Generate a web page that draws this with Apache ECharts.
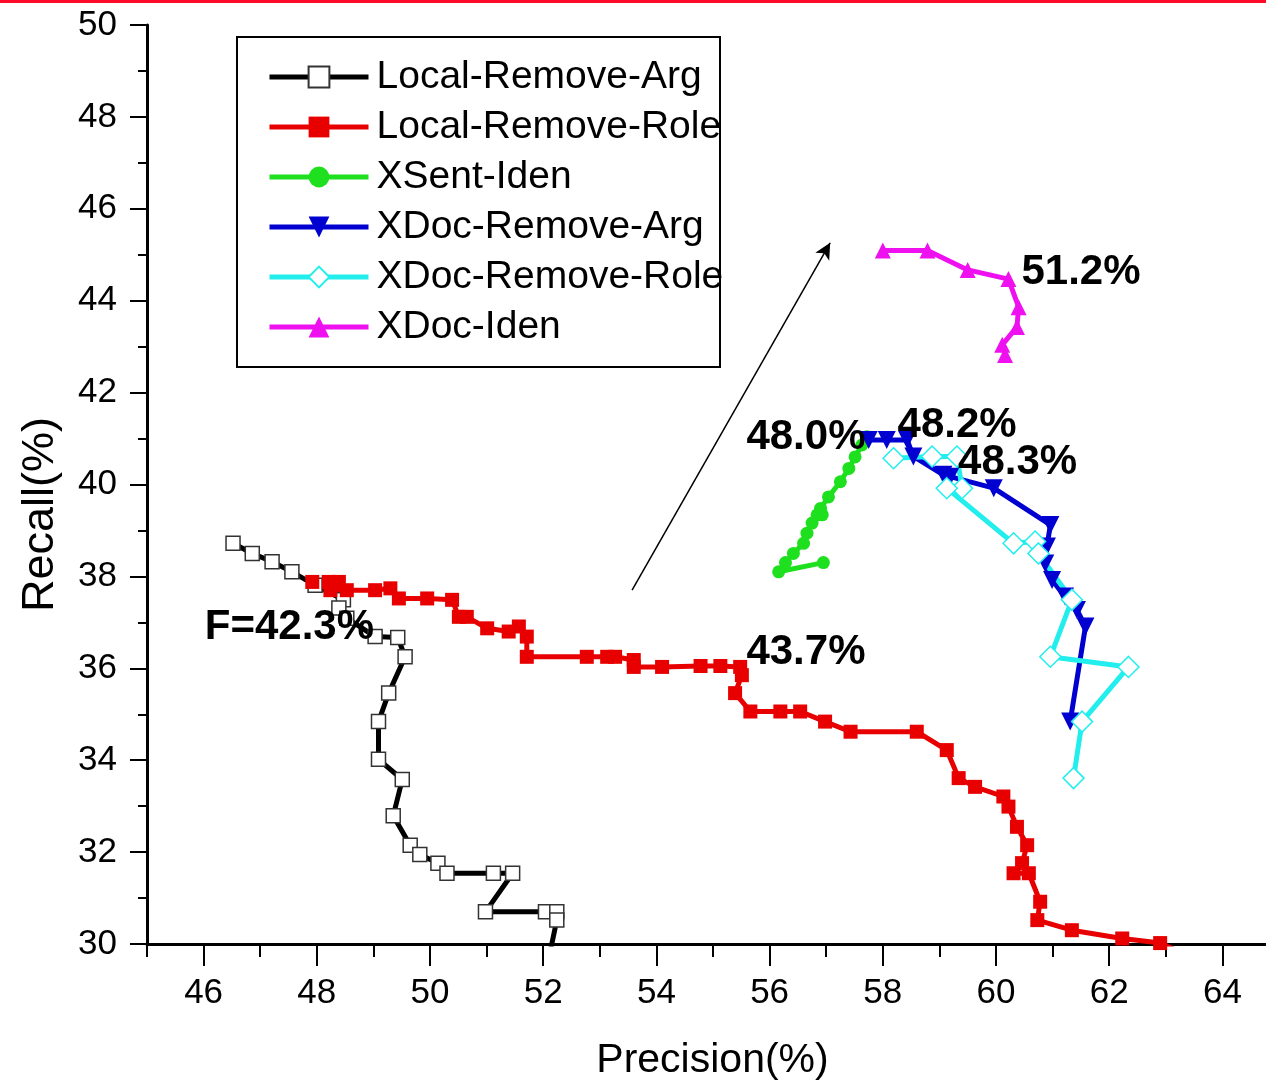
<!DOCTYPE html>
<html>
<head>
<meta charset="utf-8">
<script src="https://cdn.jsdelivr.net/npm/echarts@6/dist/echarts.min.js"></script>
<style>
  html, body { margin: 0; padding: 0; background: #fff; }
  #chart { width: 1266px; height: 1088px; }
</style>
</head>
<body>
<div id="chart"></div>
<script>
// tick labels
const xMajor = [46, 48, 50, 52, 54, 56, 58, 60, 62, 64];
const xMinor = [45, 47, 49, 51, 53, 55, 57, 59, 61, 63];
const yMajor = [30, 32, 34, 36, 38, 40, 42, 44, 46, 48, 50];
const yMinor = [31, 33, 35, 37, 39, 41, 43, 45, 47, 49];

// Local-Remove-Arg
const localArgP = [46.52, 46.86, 47.21, 47.56, 47.97, 48.47, 48.39, 48.53, 49.03, 49.43, 49.56, 49.27, 49.09, 49.09, 49.51, 49.35, 49.65, 49.82, 50.14, 50.30, 51.12, 51.46, 50.98, 52.04, 52.24, 52.24, 52.13];
const localArgR = [38.72, 38.50, 38.32, 38.10, 37.81, 37.49, 37.31, 37.09, 36.69, 36.67, 36.25, 35.46, 34.84, 34.02, 33.58, 32.79, 32.15, 31.95, 31.76, 31.54, 31.54, 31.54, 30.70, 30.70, 30.70, 30.52, 29.87];

// Local-Remove-Role
const localRoleP = [47.92, 48.21, 48.39, 48.24, 48.53, 49.03, 49.30, 49.45, 49.95, 50.39, 50.51, 50.65, 51.01, 51.39, 51.57, 51.71, 51.71, 52.77, 53.13, 53.27, 53.60, 53.60, 54.10, 54.78, 55.13, 55.48, 55.51, 55.39, 55.66, 56.19, 56.54, 56.98, 57.43, 58.60, 59.13, 59.34, 59.63, 60.13, 60.22, 60.37, 60.55, 60.46, 60.31, 60.58, 60.78, 60.73, 61.34, 62.23, 62.90, 63.17];
const localRoleR = [37.88, 37.88, 37.88, 37.70, 37.70, 37.70, 37.74, 37.52, 37.52, 37.49, 37.12, 37.12, 36.87, 36.80, 36.91, 36.69, 36.25, 36.25, 36.25, 36.25, 36.18, 36.03, 36.03, 36.05, 36.05, 36.03, 35.85, 35.46, 35.06, 35.06, 35.06, 34.84, 34.62, 34.62, 34.22, 33.61, 33.42, 33.21, 32.99, 32.55, 32.15, 31.76, 31.54, 31.54, 30.92, 30.52, 30.30, 30.12, 30.02, 29.87];

// XSent-Iden
const xsentP = [56.95, 56.16, 56.28, 56.42, 56.60, 56.66, 56.75, 56.84, 56.93, 56.90, 57.04, 57.25, 57.40, 57.51, 57.63, 57.72];
const xsentR = [38.30, 38.10, 38.30, 38.50, 38.72, 38.94, 39.16, 39.34, 39.34, 39.48, 39.73, 40.06, 40.35, 40.60, 40.86, 41.04];

// XDoc-Remove-Arg
const xdocArgP = [57.75, 58.07, 58.43, 58.54, 59.07, 59.19, 59.96, 60.96, 60.90, 60.87, 60.99, 61.22, 61.43, 61.58, 61.31];
const xdocArgR = [40.97, 40.97, 40.97, 40.61, 40.21, 40.17, 39.92, 39.12, 38.65, 38.28, 37.92, 37.56, 37.27, 36.91, 34.84];

// XDoc-Remove-Role
const xdocRoleP = [58.19, 58.87, 59.31, 59.40, 59.13, 60.31, 60.69, 60.75, 61.34, 60.96, 62.34, 61.52, 61.37];
const xdocRoleR = [40.57, 40.61, 40.61, 39.92, 39.92, 38.72, 38.76, 38.50, 37.49, 36.25, 36.03, 34.84, 33.61];

// XDoc-Iden
const xdocIdenP = [58.00, 58.79, 59.50, 60.22, 60.40, 60.37, 60.11, 60.16];
const xdocIdenR = [45.09, 45.09, 44.67, 44.47, 43.86, 43.43, 43.04, 42.82];

// F-score notes: [precision, recall, text]
const notes = [
  [46.02, 36.88, 'F=42.3%'],
  [55.59, 36.35, '43.7%'],
  [55.59, 41.03, '48.0%'],
  [58.26, 41.29, '48.2%'],
  [59.33, 40.49, '48.3%'],
  [60.45, 44.62, '51.2%'],
];
const arrowFrom = [53.57, 37.70];
const arrowTo = [57.07, 45.26];

const FONT = '"Liberation Sans", Arial, sans-serif';

function zip(p, r) {
  return p.map((v, i) => [v, r[i]]);
}

function lineSeries(name, p, r, color, symbol, size, opts) {
  const o = {
    name,
    type: 'line',
    data: zip(p, r),
    symbol,
    symbolSize: size,
    showAllSymbol: true,
    clip: true,
    lineStyle: { color, width: 5 },
    itemStyle: { color, borderColor: color, borderWidth: 0 },
    emphasis: { disabled: true },
    z: 3,
  };
  return Object.assign(o, opts || {});
}

const chart = echarts.init(document.getElementById('chart'));

const axisBase = {
  type: 'value',
  splitLine: { show: false },
};

// x runs past the right edge of the picture (cropped at ~64.8)
const xMax = 64.77;

const option = {
  animation: false,
  backgroundColor: '#fff',
  grid: { left: 147, right: 0, top: 25, bottom: 144, containLabel: false },
  legend: {
    orient: 'vertical',
    left: 267,
    top: 57,
    padding: 0,
    itemWidth: 99,
    itemHeight: 26,
    itemGap: 10,
    selectedMode: false,
    lineStyle: { width: 5 },
    textStyle: { fontSize: 39, fontFamily: FONT, color: '#000', lineHeight: 40, padding: [0, 0, 0, 3] },
    data: ['Local-Remove-Arg', 'Local-Remove-Role', 'XSent-Iden', 'XDoc-Remove-Arg', 'XDoc-Remove-Role', 'XDoc-Iden'],
  },
  xAxis: [
    Object.assign({}, axisBase, {
      min: 45, max: xMax,
      position: 'bottom',
      name: 'Precision(%)',
      nameLocation: 'middle',
      nameGap: 96,
      nameTextStyle: { fontSize: 41, fontFamily: FONT, color: '#000', padding: [0, 0, 0, 12] },
      axisLine: { onZero: false, lineStyle: { color: '#000', width: 3 } },
      axisTick: { customValues: xMajor, length: 22, lineStyle: { color: '#000', width: 2 } },
      axisLabel: { customValues: xMajor, fontSize: 35, fontFamily: FONT, color: '#000', margin: 32 },
    }),
    Object.assign({}, axisBase, {
      min: 45, max: xMax,
      position: 'bottom',
      axisLine: { show: false, onZero: false },
      axisTick: { customValues: xMinor, length: 13, lineStyle: { color: '#000', width: 2 } },
      axisLabel: { show: false },
    }),
  ],
  yAxis: [
    Object.assign({}, axisBase, {
      min: 30, max: 50,
      position: 'left',
      name: 'Recall(%)',
      nameLocation: 'middle',
      nameGap: 84,
      nameTextStyle: { fontSize: 45, fontFamily: FONT, color: '#000', padding: [0, 60, 0, 0] },
      axisLine: { onZero: false, lineStyle: { color: '#000', width: 3 } },
      axisTick: { customValues: yMajor, length: 17, lineStyle: { color: '#000', width: 2 } },
      axisLabel: { customValues: yMajor, fontSize: 35, fontFamily: FONT, color: '#000', margin: 30 },
    }),
    Object.assign({}, axisBase, {
      min: 30, max: 50,
      position: 'left',
      axisLine: { show: false, onZero: false },
      axisTick: { customValues: yMinor, length: 9, lineStyle: { color: '#000', width: 2 } },
      axisLabel: { show: false },
    }),
  ],
  series: [
    lineSeries('Local-Remove-Arg', localArgP, localArgR, '#000000', 'rect', 14, {
      itemStyle: { color: '#fff', borderColor: '#333', borderWidth: 1.5 },
    }),
    lineSeries('Local-Remove-Role', localRoleP, localRoleR, '#e80000', 'rect', 14),
    lineSeries('XSent-Iden', xsentP, xsentR, '#1ee01e', 'circle', 13),
    lineSeries('XDoc-Remove-Arg', xdocArgP, xdocArgR, '#0000d0', 'triangle', 18, { symbolRotate: 180 }),
    lineSeries('XDoc-Remove-Role', xdocRoleP, xdocRoleR, '#22eeee', 'diamond', 21, {
      itemStyle: { color: '#fff', borderColor: '#22eeee', borderWidth: 1.5 },
    }),
    lineSeries('XDoc-Iden', xdocIdenP, xdocIdenR, '#ee10ee', 'triangle', 16),
    {
      name: 'notes',
      type: 'scatter',
      data: notes,
      symbolSize: 0,
      silent: true,
      z: 10,
      itemStyle: { opacity: 1 },
      label: {
        show: true,
        position: 'right',
        distance: 0,
        formatter: p => p.value[2],
        fontSize: 42,
        fontWeight: 'bold',
        fontFamily: FONT,
        color: '#000',
      },
      markLine: {
        silent: true,
        symbol: ['none', 'arrow'],
        symbolSize: [12, 16],
        label: { show: false },
        lineStyle: { color: '#000', width: 1.5, type: 'solid', opacity: 1 },
        data: [[{ coord: arrowFrom }, { coord: arrowTo }]],
      },
    },
  ],
  graphic: [
    { type: 'rect', left: 0, top: 0, shape: { width: 1266, height: 3 }, style: { fill: '#ff0a2a' } },
    { type: 'rect', shape: { x: 237, y: 37, width: 483, height: 330 }, style: { fill: 'none', stroke: '#000', lineWidth: 2 }, z: 1 },
  ],
};

chart.setOption(option);
</script>
</body>
</html>
